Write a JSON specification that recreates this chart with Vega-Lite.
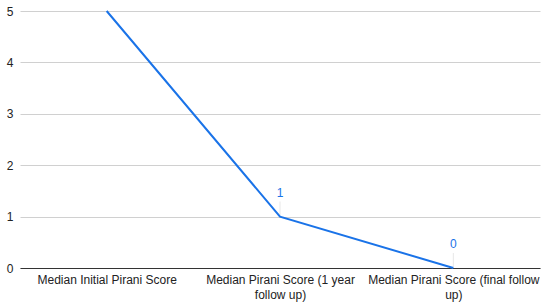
{
  "$schema": "https://vega.github.io/schema/vega-lite/v6.json",
  "width": 520,
  "height": 257,
  "autosize": {"type": "none"},
  "padding": {"left": 20, "top": 11, "right": 10, "bottom": 40},
  "background": "white",
  "config": {
    "view": {"stroke": null},
    "font": "Liberation Sans"
  },
  "data": {
    "values": [
      {"stage": "Median Initial Pirani Score", "score": 5, "label": ""},
      {"stage": "Median Pirani Score (1 year follow up)", "score": 1, "label": "1"},
      {"stage": "Median Pirani Score (final follow up)", "score": 0, "label": "0"}
    ]
  },
  "encoding": {
    "x": {
      "field": "stage",
      "type": "ordinal",
      "sort": ["Median Initial Pirani Score", "Median Pirani Score (1 year follow up)", "Median Pirani Score (final follow up)"],
      "scale": {"type": "point", "padding": 0.5},
      "axis": {
        "title": null,
        "labelAngle": 0,
        "ticks": false,
        "domainColor": "#333333",
        "domainWidth": 1,
        "labelColor": "#222222",
        "labelFontSize": 12,
        "labelPadding": 6,
        "labelLineHeight": 15,
        "labelLimit": 200,
        "labelExpr": "datum.value == 'Median Pirani Score (1 year follow up)' ? ['Median Pirani Score (1 year', 'follow up)'] : datum.value == 'Median Pirani Score (final follow up)' ? ['Median Pirani Score (final follow', 'up)'] : datum.value"
      }
    },
    "y": {
      "field": "score",
      "type": "quantitative",
      "scale": {"domain": [0, 5], "nice": false},
      "axis": {
        "title": null,
        "values": [0, 1, 2, 3, 4, 5],
        "labelOverlap": false,
        "domain": false,
        "ticks": false,
        "gridColor": "#d0d0d0",
        "labelColor": "#222222",
        "labelFontSize": 12,
        "labelPadding": 7
      }
    }
  },
  "layer": [
    {
      "mark": {"type": "tick", "orient": "vertical", "color": "#dddddd", "thickness": 1, "size": 14, "yOffset": -8},
      "transform": [{"filter": "datum.label != ''"}]
    },
    {
      "mark": {"type": "line", "color": "#1a73e8", "strokeWidth": 2}
    },
    {
      "mark": {"type": "text", "color": "#1a73e8", "fontSize": 12, "dy": -24},
      "encoding": {"text": {"field": "label"}}
    }
  ]
}
